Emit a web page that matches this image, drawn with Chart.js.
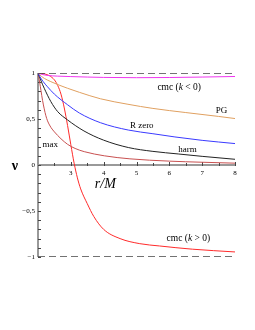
<!DOCTYPE html>
<html>
<head>
<meta charset="utf-8">
<script src="https://cdn.jsdelivr.net/npm/chart.js@4"></script>
<style>
  html, body { margin: 0; padding: 0; background: #fff; }
  #wrap { width: 255px; height: 330px; }
</style>
</head>
<body>
<div id="wrap"><canvas id="chart" width="255" height="330"></canvas></div>
<script>
// values (r/M on x, v on y)
const cmcNegR = [2, 2.05, 2.15, 2.3, 2.6, 3, 3.5, 4, 5, 6, 7, 8];
const cmcNegV = [1, 0.993, 0.982, 0.973, 0.966, 0.961, 0.956, 0.952, 0.949, 0.951, 0.956, 0.962];

const pgR = [2, 2.1, 2.2, 2.39, 2.9, 3.26, 3.9, 4.74, 5.5, 6.5, 7.5, 8];
const pgV = [1, 0.965, 0.94, 0.906, 0.834, 0.79, 0.72, 0.66, 0.615, 0.57, 0.528, 0.505];

const rzeroR = [2, 2.05, 2.15, 2.29, 2.5, 2.9, 3.26, 3.9, 4.75, 5.5, 6.17, 7, 8];
const rzeroV = [1, 0.965, 0.91, 0.85, 0.77, 0.655, 0.565, 0.46, 0.38, 0.34, 0.305, 0.268, 0.233];

const harmR = [2, 2.08, 2.19, 2.39, 2.6, 2.9, 3.4, 4, 4.75, 5.5, 6.27, 7, 8];
const harmV = [1, 0.925, 0.834, 0.69, 0.58, 0.49, 0.37, 0.27, 0.19, 0.148, 0.12, 0.094, 0.062];

const maxR = [2, 2.05, 2.09, 2.14, 2.19, 2.24, 2.29, 2.35, 2.4, 2.5, 2.7, 2.9, 3.13, 3.41, 4.02, 4.8, 6, 7, 8];
const maxV = [1, 0.9, 0.81, 0.7, 0.61, 0.535, 0.48, 0.435, 0.405, 0.36, 0.285, 0.225, 0.18, 0.145, 0.1, 0.067, 0.042, 0.03, 0.02];

const cmcPosR = [2, 2.2, 2.35, 2.5, 2.6, 2.7, 2.8, 2.9, 3, 3.1, 3.2, 3.3, 3.5, 3.7, 4, 4.5, 5.1, 5.7, 6.7, 8];
const cmcPosV = [1, 0.99, 0.97, 0.925, 0.865, 0.77, 0.62, 0.43, 0.22, 0.02, -0.14, -0.26, -0.42, -0.56, -0.7, -0.8, -0.855, -0.88, -0.915, -0.945];

const limitR = [2, 8];
const xTicks = [3, 4, 5, 6, 7, 8];
const yTicks = [-1, -0.5, 0, 0.5, 1];

function pts(xs, ys) { return xs.map((x, i) => ({ x: x, y: ys[i] })); }

function curve(xs, ys, color) {
  return {
    data: pts(xs, ys),
    borderColor: color,
    borderWidth: 1,
    pointRadius: 0,
    cubicInterpolationMode: "monotone",
    fill: false
  };
}

function limit(v) {
  return {
    data: pts(limitR, [v, v]),
    borderColor: "#444",
    borderWidth: 1.3,
    borderDash: [7, 4],
    pointRadius: 0,
    fill: false
  };
}

function segText(ctx, x, y, parts, size) {
  // parts: [text, italic]
  let total = 0;
  parts.forEach(p => {
    ctx.font = (p[1] ? "italic " : "") + size + "px 'Liberation Serif'";
    total += ctx.measureText(p[0]).width;
  });
  let cx = x - total / 2;
  ctx.textAlign = "left";
  parts.forEach(p => {
    ctx.font = (p[1] ? "italic " : "") + size + "px 'Liberation Serif'";
    ctx.fillText(p[0], cx, y);
    cx += ctx.measureText(p[0]).width;
  });
}

const axesPlugin = {
  id: "axes",
  beforeDatasetsDraw(chart) {
    const ctx = chart.ctx;
    const xs = chart.scales.x, ys = chart.scales.y;
    const x0 = xs.getPixelForValue(2), x1 = xs.getPixelForValue(8);
    const y0 = ys.getPixelForValue(0);
    ctx.save();
    ctx.strokeStyle = "#999";
    ctx.lineWidth = 2;
    ctx.beginPath();
    ctx.moveTo(x0, ys.getPixelForValue(1));
    ctx.lineTo(x0, ys.getPixelForValue(-1));
    ctx.moveTo(x0, y0);
    ctx.lineTo(x1, y0);
    ctx.stroke();

    // ticks
    ctx.strokeStyle = "#444";
    ctx.lineWidth = 1;
    ctx.beginPath();
    for (let v = 2.5; v <= 8.01; v += 0.5) {
      const px = Math.round(xs.getPixelForValue(v)) + 0.5;
      const len = Math.abs(v - Math.round(v)) < 0.01 ? 3 : 2;
      ctx.moveTo(px, y0 - len);
      ctx.lineTo(px, y0 + 1);
    }
    for (let v = -1; v <= 1.001; v += 0.1) {
      const py = Math.round(ys.getPixelForValue(v)) + 0.5;
      ctx.moveTo(x0, py);
      ctx.lineTo(x0 + 3, py);
    }
    ctx.stroke();

    ctx.fillStyle = "#000";
    ctx.font = "7px 'Liberation Serif'";
    ctx.textBaseline = "middle";
    ctx.textAlign = "center";
    xTicks.forEach(v => ctx.fillText(String(v), xs.getPixelForValue(v), y0 + 8));
    ctx.textAlign = "right";
    yTicks.forEach(v => {
      const s = String(v).replace(".", ",").replace("-", "\u2212");
      ctx.fillText(s, x0 - 3, ys.getPixelForValue(v));
    });
    ctx.restore();
  },
  afterDraw(chart) {
    const ctx = chart.ctx;
    const xs = chart.scales.x, ys = chart.scales.y;
    ctx.save();
    ctx.fillStyle = "#000";
    ctx.textBaseline = "middle";
    segText(ctx, xs.getPixelForValue(6.3), ys.getPixelForValue(0.845), [["cmc (", false], ["k", true], [" < 0)", false]], 9.5);
    segText(ctx, xs.getPixelForValue(7.59), ys.getPixelForValue(0.595), [["PG", false]], 9);
    segText(ctx, xs.getPixelForValue(5.16), ys.getPixelForValue(0.424), [["R zero", false]], 9);
    segText(ctx, xs.getPixelForValue(6.55), ys.getPixelForValue(0.17), [["harm", false]], 9);
    segText(ctx, xs.getPixelForValue(2.37), ys.getPixelForValue(0.222), [["max", false]], 9);
    segText(ctx, xs.getPixelForValue(6.58), ys.getPixelForValue(-0.8), [["cmc (", false], ["k", true], [" > 0)", false]], 9.5);
    segText(ctx, xs.getPixelForValue(4.05), ys.getPixelForValue(-0.21), [["r/M", true]], 14);
    ctx.font = "bold 14px 'Liberation Serif'";
    ctx.textAlign = "center";
    ctx.fillText("\u03bd", 15, ys.getPixelForValue(0) + 1);
    ctx.restore();
  }
};

new Chart(document.getElementById("chart"), {
  type: "line",
  data: {
    datasets: [
      limit(1),
      limit(-1),
      curve(cmcNegR, cmcNegV, "#f035f0"),
      curve(pgR, pgV, "#e0a060"),
      curve(rzeroR, rzeroV, "#3a3aff"),
      curve(harmR, harmV, "#222"),
      curve(maxR, maxV, "#c85050"),
      curve(cmcPosR, cmcPosV, "#ff2a2a")
    ]
  },
  options: {
    responsive: false,
    animation: false,
    layout: { padding: { left: 38, right: 20, top: 73, bottom: 73 } },
    plugins: { legend: { display: false }, tooltip: { enabled: false } },
    scales: {
      x: { type: "linear", min: 2, max: 8, display: false },
      y: { type: "linear", min: -1, max: 1, display: false }
    }
  },
  plugins: [axesPlugin]
});
</script>
</body>
</html>
